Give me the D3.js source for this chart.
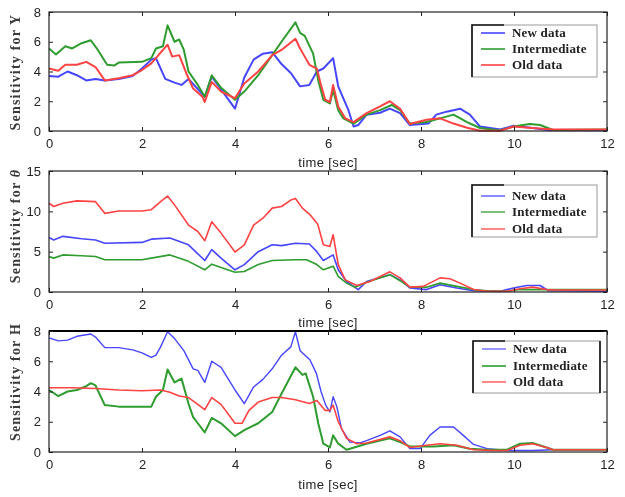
<!DOCTYPE html>
<html>
<head>
<meta charset="utf-8">
<script src="https://cdn.jsdelivr.net/npm/d3@7"></script>
<style>
    body { margin: 0; background: #fff; }
    svg { display: block; filter: blur(0.35px); }
</style>
</head>
<body>
<div id="chart"></div>
<script>
// time axis and legend
const timeTicks = [0, 2, 4, 6, 8, 10, 12];
const seriesNames = ['New data', 'Intermediate', 'Old data'];
const seriesColors = ['#4646ff', '#2f9c2f', '#ff4242'];

// sensitivity for Y, [time, value]
const yNew = [[0, 3.7], [0.2, 3.65], [0.4, 4.0], [0.6, 3.75], [0.8, 3.4], [1.0, 3.5], [1.2, 3.4], [1.5, 3.5], [1.8, 3.7], [2.0, 4.2], [2.2, 4.8], [2.3, 4.9], [2.5, 3.5], [2.7, 3.25], [2.85, 3.1], [3.0, 3.5], [3.35, 2.3], [3.5, 3.65], [3.7, 2.8], [4.0, 1.5], [4.2, 3.6], [4.4, 4.8], [4.6, 5.2], [4.8, 5.3], [5.0, 4.5], [5.2, 3.9], [5.4, 3.0], [5.6, 3.1], [5.76, 4.0], [5.9, 4.2], [6.11, 4.9], [6.22, 3.0], [6.33, 2.2], [6.44, 1.4], [6.55, 0.3], [6.65, 0.4], [6.83, 1.1], [7.12, 1.23], [7.33, 1.5], [7.55, 1.2], [7.76, 0.4], [8.16, 0.5], [8.33, 1.1], [8.55, 1.3], [8.84, 1.5], [9.05, 1.1], [9.27, 0.3], [9.7, 0.1], [9.99, 0.35], [10.4, 0.2], [10.77, 0.05], [12, 0.05]];
const yInter = [[0, 5.55], [0.15, 5.15], [0.35, 5.7], [0.5, 5.55], [0.7, 5.9], [0.9, 6.1], [1.05, 5.45], [1.25, 4.45], [1.4, 4.4], [1.5, 4.6], [2.0, 4.65], [2.2, 4.9], [2.3, 5.55], [2.45, 5.7], [2.55, 7.1], [2.7, 6.0], [2.8, 6.15], [2.9, 5.45], [3.0, 4.0], [3.2, 3.1], [3.35, 2.3], [3.5, 3.75], [3.7, 2.9], [4.0, 2.1], [4.2, 2.65], [4.5, 3.75], [4.8, 5.1], [5.0, 6.0], [5.3, 7.3], [5.4, 6.6], [5.5, 6.4], [5.68, 5.2], [5.79, 3.4], [5.9, 2.1], [6.04, 1.85], [6.11, 2.75], [6.22, 1.4], [6.33, 0.85], [6.55, 0.5], [6.83, 1.1], [7.12, 1.4], [7.37, 1.75], [7.55, 1.4], [7.76, 0.5], [8.12, 0.6], [8.41, 0.85], [8.7, 1.1], [8.99, 0.6], [9.27, 0.2], [9.7, 0.03], [9.99, 0.3], [10.34, 0.47], [10.56, 0.4], [10.84, 0.07], [12, 0.1]];
const yOld = [[0, 4.2], [0.2, 4.05], [0.35, 4.45], [0.6, 4.45], [0.8, 4.65], [1.0, 4.3], [1.2, 3.4], [1.5, 3.55], [1.8, 3.75], [2.0, 4.1], [2.2, 4.55], [2.3, 4.9], [2.45, 5.45], [2.55, 5.8], [2.65, 5.0], [2.8, 5.1], [2.95, 3.9], [3.1, 2.85], [3.3, 2.3], [3.35, 1.95], [3.5, 3.3], [3.7, 2.65], [4.0, 2.2], [4.2, 3.2], [4.5, 4.0], [4.8, 5.1], [5.0, 5.45], [5.3, 6.2], [5.4, 5.55], [5.5, 5.0], [5.6, 4.45], [5.76, 4.2], [5.84, 3.2], [5.94, 2.1], [6.04, 1.95], [6.11, 3.1], [6.22, 1.65], [6.37, 0.85], [6.55, 0.6], [6.83, 1.2], [7.12, 1.65], [7.33, 2.0], [7.55, 1.5], [7.76, 0.47], [8.12, 0.75], [8.41, 0.85], [8.7, 0.5], [8.99, 0.22], [9.27, 0.02], [9.7, 0.02], [9.99, 0.3], [10.4, 0.2], [10.84, 0.1], [12, 0.1]];

// sensitivity for theta
const thNew = [[0, 6.75], [0.1, 6.45], [0.3, 6.9], [0.7, 6.6], [1.0, 6.45], [1.2, 6.05], [2.0, 6.15], [2.2, 6.55], [2.6, 6.7], [3.0, 5.85], [3.35, 3.9], [3.5, 5.25], [3.7, 4.2], [4.0, 2.75], [4.2, 3.4], [4.5, 5.0], [4.8, 5.85], [5.0, 5.75], [5.3, 6.05], [5.6, 5.95], [5.76, 5.0], [5.9, 3.9], [6.11, 4.6], [6.22, 2.75], [6.4, 1.3], [6.65, 0.3], [6.83, 1.3], [7.33, 2.15], [7.55, 1.5], [7.76, 0.5], [8.12, 0.3], [8.41, 0.9], [8.77, 0.5], [9.13, 0.15], [9.7, 0.08], [9.99, 0.5], [10.27, 0.8], [10.56, 0.8], [10.74, 0.15], [12, 0.1]];
const thInter = [[0, 4.4], [0.1, 4.2], [0.3, 4.6], [0.7, 4.5], [1.0, 4.4], [1.2, 4.0], [2.0, 4.0], [2.2, 4.2], [2.6, 4.6], [3.0, 3.8], [3.35, 2.75], [3.5, 3.45], [3.7, 3.05], [4.0, 2.45], [4.2, 2.55], [4.5, 3.4], [4.8, 3.9], [5.3, 4.0], [5.54, 4.0], [5.76, 3.4], [5.9, 2.75], [6.11, 3.2], [6.22, 1.95], [6.4, 1.1], [6.58, 0.6], [6.83, 1.2], [7.33, 2.15], [7.55, 1.4], [7.76, 0.6], [8.12, 0.6], [8.41, 1.1], [8.77, 0.7], [9.13, 0.3], [9.42, 0.15], [9.85, 0.1], [10.13, 0.3], [12, 0.3]];
const thOld = [[0, 11.0], [0.1, 10.6], [0.3, 11.0], [0.6, 11.3], [1.0, 11.2], [1.2, 9.75], [1.5, 10.05], [2.0, 10.05], [2.2, 10.2], [2.4, 11.2], [2.55, 11.9], [2.7, 10.8], [3.0, 8.3], [3.2, 7.5], [3.35, 6.35], [3.5, 8.7], [3.7, 7.3], [4.0, 4.95], [4.2, 5.85], [4.4, 8.3], [4.6, 9.15], [4.8, 10.4], [5.0, 10.6], [5.2, 11.4], [5.3, 11.6], [5.45, 10.4], [5.61, 9.6], [5.78, 8.4], [5.9, 5.85], [6.04, 5.65], [6.11, 7.1], [6.22, 3.4], [6.37, 1.5], [6.62, 0.8], [6.9, 1.3], [7.33, 2.5], [7.55, 1.75], [7.76, 0.6], [8.05, 0.7], [8.41, 1.75], [8.62, 1.65], [8.84, 1.1], [9.13, 0.3], [9.42, 0.1], [9.85, 0.1], [10.13, 0.4], [10.4, 0.6], [10.7, 0.3], [10.91, 0.25], [12, 0.25]];

// sensitivity for H
const hNew = [[0, 7.55], [0.2, 7.35], [0.4, 7.4], [0.6, 7.65], [0.9, 7.8], [1.0, 7.6], [1.2, 6.9], [1.5, 6.9], [1.8, 6.75], [2.0, 6.55], [2.2, 6.25], [2.3, 6.4], [2.4, 6.95], [2.55, 7.95], [2.7, 7.5], [2.9, 6.7], [3.1, 5.5], [3.2, 5.4], [3.35, 4.6], [3.5, 6.0], [3.7, 5.6], [4.0, 4.1], [4.2, 3.2], [4.4, 4.3], [4.6, 4.8], [4.8, 5.5], [5.0, 6.4], [5.2, 6.95], [5.3, 7.95], [5.4, 6.7], [5.61, 6.1], [5.75, 5.2], [5.85, 4.0], [5.95, 3.1], [6.04, 2.65], [6.11, 3.65], [6.19, 3.0], [6.29, 1.55], [6.47, 0.65], [6.69, 0.6], [6.83, 0.75], [7.12, 1.1], [7.33, 1.4], [7.55, 1.0], [7.76, 0.22], [7.98, 0.22], [8.19, 1.1], [8.41, 1.65], [8.7, 1.65], [8.91, 1.1], [9.13, 0.5], [9.42, 0.22], [9.85, 0.1], [10.4, 0.1], [10.84, 0.15], [12, 0.15]];
const hInter = [[0, 4.1], [0.2, 3.7], [0.4, 4.0], [0.6, 4.1], [0.8, 4.35], [0.9, 4.55], [1.0, 4.4], [1.2, 3.1], [1.5, 3.0], [2.2, 3.0], [2.3, 3.65], [2.45, 4.1], [2.55, 5.45], [2.7, 4.6], [2.85, 4.85], [3.0, 3.2], [3.1, 2.3], [3.2, 1.9], [3.35, 1.3], [3.5, 2.25], [3.7, 1.9], [4.0, 1.05], [4.2, 1.45], [4.5, 1.9], [4.8, 2.65], [5.0, 3.85], [5.3, 5.6], [5.45, 5.1], [5.52, 5.2], [5.68, 3.65], [5.79, 1.9], [5.9, 0.55], [6.04, 0.3], [6.11, 1.1], [6.22, 0.55], [6.4, 0.15], [6.83, 0.55], [7.33, 0.9], [7.55, 0.65], [7.76, 0.37], [8.27, 0.37], [8.7, 0.45], [9.05, 0.22], [9.42, 0.15], [9.85, 0.15], [10.13, 0.55], [10.4, 0.6], [10.7, 0.3], [10.84, 0.15], [12, 0.15]];
const hOld = [[0, 4.25], [0.5, 4.25], [1.0, 4.2], [1.5, 4.1], [2.0, 4.05], [2.4, 4.1], [2.6, 3.95], [2.8, 3.7], [3.0, 3.6], [3.2, 3.15], [3.35, 2.8], [3.5, 3.6], [3.7, 3.15], [4.0, 1.9], [4.15, 1.9], [4.3, 2.75], [4.5, 3.3], [4.8, 3.6], [5.0, 3.6], [5.3, 3.45], [5.6, 3.2], [5.76, 3.4], [5.94, 2.75], [6.04, 2.75], [6.11, 3.1], [6.22, 2.0], [6.4, 0.9], [6.62, 0.55], [6.83, 0.6], [7.33, 1.0], [7.55, 0.75], [7.76, 0.3], [8.12, 0.45], [8.41, 0.55], [8.77, 0.45], [9.13, 0.15], [9.56, 0.1], [9.85, 0.1], [10.13, 0.45], [10.4, 0.55], [10.7, 0.3], [10.84, 0.15], [12, 0.15]];

const yTicksY = [0, 2, 4, 6, 8];
const yTicksTheta = [0, 5, 10, 15];
const yTicksH = [0, 2, 4, 6, 8];

let width = 625,
    height = 497;

let svg = d3.select('#chart').append('svg')
    .attr('width', width)
    .attr('height', height);

// panel layout, pixels
let panels = [
    { top: 12, bottom: 131, max: 8, ticks: yTicksY, label: 'Y', italic: false, series: [yNew, yInter, yOld], widths: [2, 2, 2],
        legend: { x: 472, y: 25, w: 125, h: 52, rows: [33, 49, 65] }, timeY: 167, labelY: 72 },
    { top: 171, bottom: 292, max: 15, ticks: yTicksTheta, label: 'θ', italic: true, series: [thNew, thInter, thOld], widths: [1.6, 1.6, 1.6],
        legend: { x: 472, y: 185, w: 125, h: 52, rows: [196, 212, 229] }, timeY: 327, labelY: 226 },
    { top: 331, bottom: 452, max: 8, ticks: yTicksH, label: 'H', italic: false, series: [hNew, hInter, hOld], widths: [1.4, 2, 1.6],
        legend: { x: 473, y: 341, w: 127, h: 52, rows: [349, 366, 382] }, timeY: 489, labelY: 382, rightBar: true, thickTop: true }
];

let left = 49,
    right = 607;

let x = d3.scaleLinear().domain([0, 12]).range([left, right]);

panels.forEach(function (p) {
    let y = d3.scaleLinear().domain([0, p.max]).range([p.bottom, p.top]);
    let g = svg.append('g');

    // series lines
    let line = d3.line()
        .x(function (d) { return x(d[0]); })
        .y(function (d) { return y(d[1]); });
    p.series.forEach(function (s, i) {
        g.append('path')
            .datum(s)
            .attr('d', line)
            .attr('fill', 'none')
            .attr('stroke', seriesColors[i])
            .attr('stroke-width', p.widths[i])
            .attr('stroke-linejoin', 'round');
    });

    // box
    g.append('rect')
        .attr('x', left)
        .attr('y', p.top)
        .attr('width', right - left)
        .attr('height', p.bottom - p.top)
        .attr('fill', 'none')
        .attr('stroke', '#222')
        .attr('stroke-width', 1.2);
    if (p.thickTop) {
        g.append('line')
            .attr('x1', left).attr('x2', right)
            .attr('y1', p.top).attr('y2', p.top)
            .attr('stroke', '#000')
            .attr('stroke-width', 2.2);
    }

    // axes with inward ticks on all sides
    let bottomAxis = d3.axisBottom(x).tickValues(timeTicks).tickSize(-4).tickPadding(8).tickFormat(d3.format('d'));
    let topAxis = d3.axisTop(x).tickValues(timeTicks).tickSize(-4).tickFormat('');
    let leftAxis = d3.axisLeft(y).tickValues(p.ticks).tickSize(-4).tickPadding(8).tickFormat(d3.format('d'));
    let rightAxis = d3.axisRight(y).tickValues(p.ticks).tickSize(-4).tickFormat('');

    [[bottomAxis, 'translate(0,' + p.bottom + ')'],
        [topAxis, 'translate(0,' + p.top + ')'],
        [leftAxis, 'translate(' + left + ',0)'],
        [rightAxis, 'translate(' + right + ',0)']].forEach(function (a) {
        let ax = g.append('g')
            .attr('transform', a[1])
            .call(a[0]);
        ax.select('.domain').remove();
        ax.selectAll('line').attr('stroke', '#222');
        ax.selectAll('text')
            .attr('fill', '#222')
            .style('font-family', 'Liberation Sans, Arial, sans-serif')
            .style('font-size', '13px');
    });

    // axis titles
    let yTitle = g.append('text')
        .attr('transform', 'translate(20,' + p.labelY + ') rotate(-90)')
        .attr('text-anchor', 'middle')
        .style('font-family', 'Liberation Serif, Times New Roman, serif')
        .style('font-weight', 'bold')
        .style('font-size', '14px')
        .style('letter-spacing', '1.2px')
        .attr('fill', '#3a3a3a');
    yTitle.append('tspan').text('Sensitivity for ');
    yTitle.append('tspan')
        .style('font-style', p.italic ? 'italic' : 'normal')
        .text(p.label);

    g.append('text')
        .attr('x', (left + right) / 2)
        .attr('y', p.timeY)
        .attr('text-anchor', 'middle')
        .style('font-family', 'Liberation Sans, Arial, sans-serif')
        .style('font-size', '13px')
        .style('letter-spacing', '0.4px')
        .attr('fill', '#222')
        .text('time [sec]');

    // legend
    let lg = p.legend;
    g.append('rect')
        .attr('x', lg.x)
        .attr('y', lg.y)
        .attr('width', lg.w)
        .attr('height', lg.h)
        .attr('fill', '#fff')
        .attr('stroke', '#999')
        .attr('stroke-width', 1);
    g.append('path')
        .attr('d', 'M' + lg.x + ',' + (lg.y + lg.h) + 'V' + lg.y + 'H' + (lg.x + 32))
        .attr('fill', 'none')
        .attr('stroke', '#111')
        .attr('stroke-width', 1.6);
    if (p.rightBar) {
        g.append('line')
            .attr('x1', lg.x + lg.w).attr('x2', lg.x + lg.w)
            .attr('y1', lg.y).attr('y2', lg.y + lg.h)
            .attr('stroke', '#111')
            .attr('stroke-width', 1.6);
    }
    seriesNames.forEach(function (name, i) {
        g.append('line')
            .attr('x1', lg.x + 9)
            .attr('x2', lg.x + 33)
            .attr('y1', lg.rows[i])
            .attr('y2', lg.rows[i])
            .attr('stroke', seriesColors[i])
            .attr('stroke-opacity', 0.8)
            .attr('stroke-width', p.widths[i]);
        g.append('text')
            .attr('x', lg.x + 40)
            .attr('y', lg.rows[i] + 4)
            .style('font-family', 'Liberation Serif, Times New Roman, serif')
            .style('font-weight', 'bold')
            .style('font-size', '13px')
            .style('letter-spacing', '0.2px')
            .attr('fill', '#222')
            .text(name);
    });
});
</script>
</body>
</html>
